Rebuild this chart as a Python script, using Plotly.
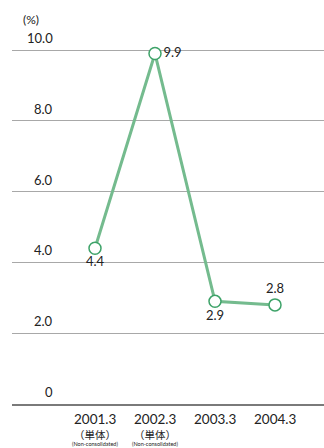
import plotly.graph_objects as go

categories = ["2001.3", "2002.3", "2003.3", "2004.3"]
sub1 = ["（単体）", "（単体）", "", ""]
sub2 = ["(Non-consolidated)", "(Non-consolidated)", "", ""]
values = [4.4, 9.9, 2.9, 2.8]
label_pos = ["bottom center", "middle right", "bottom center", "top center"]
y_ticks = [0, 2, 4, 6, 8, 10]
y_tick_labels = ["0", "2.0", "4.0", "6.0", "8.0", "10.0"]

FONT = "Lato, 'Open Sans', sans-serif"
xs = list(range(len(categories)))

fig = go.Figure()
fig.add_trace(go.Scatter(
    x=xs, y=values, mode="lines+markers+text",
    line=dict(color="#74bb8e", width=3),
    marker=dict(size=12, color="white", line=dict(color="#3ea369", width=1.5)),
    text=[f"{v:.1f}" for v in values], textposition=label_pos,
    textfont=dict(family=FONT, size=13, color="#222"),
    cliponaxis=False, showlegend=False, hoverinfo="skip",
))

L, R, T, B = 12, 0, 40, 44
W, H = 324, 448
pw = W - L - R
ph = H - T - B
annotations = []
for v, t in zip(y_ticks, y_tick_labels):
    annotations.append(dict(x=(55 - L) / pw, xref="paper", y=v, yref="y",
                            text=t, showarrow=False, xanchor="right", yanchor="bottom",
                            yshift=2, font=dict(family=FONT, size=13, color="#222")))
for i, c in enumerate(categories):
    annotations.append(dict(x=i, xref="x", y=0, yref="paper", text=c, showarrow=False,
                            xanchor="center", yanchor="middle", yshift=-15, borderpad=0,
                            font=dict(family=FONT, size=13.5, color="#222")))
    if sub1[i]:
        annotations.append(dict(x=i, xref="x", y=0, yref="paper", text=sub1[i], showarrow=False,
                                xanchor="center", yanchor="middle", yshift=-30, borderpad=0,
                                font=dict(family="Noto Sans CJK JP", size=10.5, color="#222")))
    if sub2[i]:
        annotations.append(dict(x=i, xref="x", y=0, yref="paper", text=sub2[i], showarrow=False,
                                xanchor="center", yanchor="middle", yshift=-40, borderpad=0,
                                font=dict(family=FONT, size=5.5, color="#222")))
annotations.append(dict(x=(21 - L) / pw, xref="paper", y=(H - 20 - B) / ph, yref="paper",
                        text="(%)", showarrow=False, xanchor="left", yanchor="middle",
                        font=dict(family=FONT, size=12, color="#222")))

fig.update_layout(
    width=W, height=H, margin=dict(l=L, r=R, t=T, b=B),
    paper_bgcolor="white", plot_bgcolor="white",
    xaxis=dict(range=[-(95 - L) / 60, 3 + (324 - 275) / 60], showgrid=False, zeroline=False,
               showticklabels=False, showline=True, linecolor="#7a7a7a", linewidth=2),
    yaxis=dict(range=[0, ph / 35.4], tickvals=y_ticks, showticklabels=False,
               showgrid=True, gridcolor="#a8a8a8", gridwidth=1, zeroline=False),
    annotations=annotations,
)
fig.write_html("out.html", config={"displayModeBar": False},
               post_script="document.body.style.margin='0';document.body.style.overflow='hidden';")
